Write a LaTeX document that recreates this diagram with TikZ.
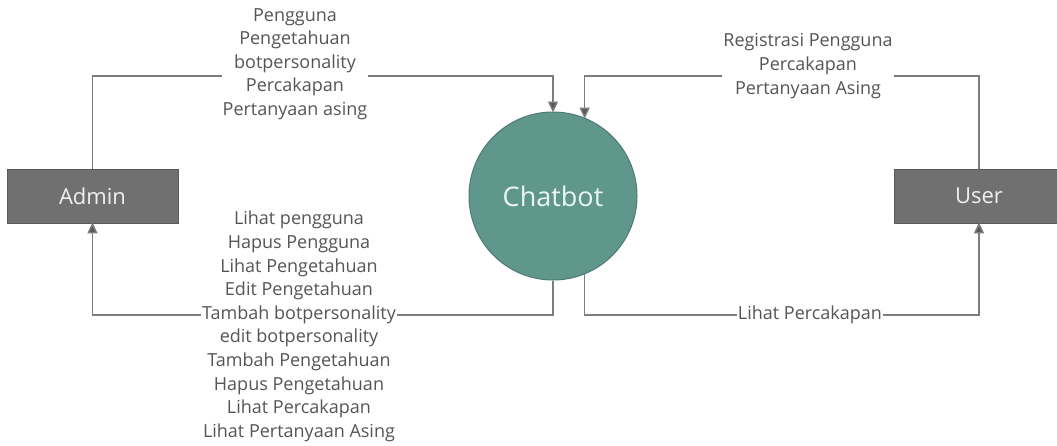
\documentclass[tikz,border=0pt]{standalone}
\usepackage{fontspec}
\setmainfont{Open Sans}
\usetikzlibrary{arrows.meta}
\definecolor{boxgray}{RGB}{112,112,112}
\definecolor{boxedge}{RGB}{90,90,90}
\definecolor{tealfill}{RGB}{96,151,140}
\definecolor{tealedge}{RGB}{78,122,115}
\definecolor{wire}{RGB}{125,125,125}
\definecolor{tipgray}{RGB}{90,90,90}
\definecolor{labelgray}{RGB}{85,85,85}
\tikzset{
  entity/.style={rectangle, draw=boxedge, line width=0.8pt, fill=boxgray,
    text=white!94!black, font=\fontsize{22}{26}\selectfont, inner sep=0pt},
  process/.style={circle, draw=tealedge, line width=1pt, fill=tealfill,
    text=white!92!teal, font=\fontsize{27}{32}\selectfont, minimum size=168pt, inner sep=0pt},
  flow/.style={draw=wire, line width=1.4pt,
    -{Triangle[length=11pt,width=10pt,fill=tipgray]}, shorten >=-1pt},
  flowlabel/.style={fill=white, text=labelgray, align=center, inner xsep=1pt, inner ysep=0pt,
    font=\fontsize{18}{23.6}\selectfont},
}
\begin{document}
\begin{tikzpicture}[x=1pt,y=-1pt]
  \useasboundingbox[fill=white] (0,0) rectangle (1057,445);

  % entities and the process
  \node[entity, minimum width=171pt, minimum height=54pt] (admin) at (92.5,196) {Admin};
  \node[entity, minimum width=170pt, minimum height=54pt] (user) at (979,196) {User};
  \node[process] (chat) at (553,196) {Chatbot};

  % levels of the horizontal runs
  \coordinate (top) at (0,76);
  \coordinate (bot) at (0,315);

  % data flows
  \draw[flow] (admin.north) -- (admin.north |- top) -| (chat.north);
  \draw[flow] (user.north) -- (user.north |- top) -| (chat.68.3);
  \draw[flow] (chat.south) -- (chat.south |- bot) -| (admin.south);
  \draw[flow] (chat.-68.3) -- (chat.-68.3 |- bot) -| (user.south);

  % flow labels
  \node[flowlabel] (lblAdminIn) at (295,64)
    {Pengguna\\Pengetahuan\\botpersonality\\Percakapan\\Pertanyaan asing};
  \node[flowlabel] (lblUserIn) at (808,66)
    {Registrasi Pengguna\\Percakapan\\Pertanyaan Asing};
  \node[flowlabel] (lblAdminOut) at (299,326.5)
    {Lihat pengguna\\Hapus Pengguna\\Lihat Pengetahuan\\Edit Pengetahuan\\Tambah botpersonality\\edit botpersonality\\Tambah Pengetahuan\\Hapus Pengetahuan\\Lihat Percakapan\\Lihat Pertanyaan Asing};
  \node[flowlabel] (lblUserOut) at (810,315) {Lihat Percakapan};
\end{tikzpicture}
\end{document}
